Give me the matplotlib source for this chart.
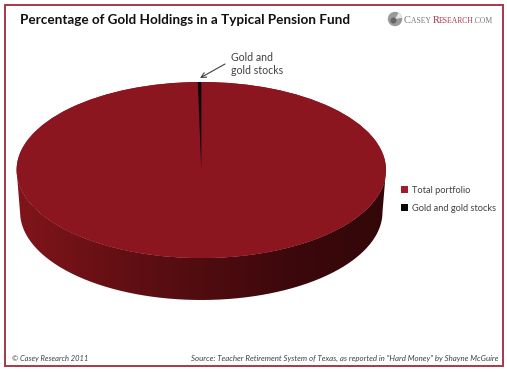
import numpy as np
import matplotlib
matplotlib.use("Agg")
import matplotlib.pyplot as plt
from matplotlib.colors import LinearSegmentedColormap
from matplotlib.patches import Circle, Ellipse, PathPatch, Rectangle, Wedge
from matplotlib.path import Path
from matplotlib.transforms import Affine2D

plt.rcParams['font.family'] = ['Lato', 'DejaVu Sans']

title = "Percentage of Gold Holdings in a Typical Pension Fund"
categories = ["Total portfolio", "Gold and gold stocks"]
shares = [99.7, 0.3]
colors = ["#8c161f", "#0a0505"]
legend_colors = ["#a01c2c", "#0a0505"]
side_colors = ["#80151b", "#661014", "#500c10", "#3c080c", "#330709"]
callout = "Gold and\ngold stocks"
copyright_note = "© Casey Research 2011"
source_note = 'Source: Teacher Retirement System of Texas, as reported in "Hard Money" by Shayne McGuire'

W, H = 507, 372
text_color = "#404040"

fig = plt.figure(figsize=(W / 100, H / 100), dpi=100)
ax = fig.add_axes([0, 0, 1, 1])

# pie is drawn on a unit circle, then squashed onto the tilted ellipse (pixel coords)
cx, cy, rx, ry = 201.3, 170, 184.7, 88
depth = 42
wedges, _ = ax.pie(shares, colors=colors, startangle=90, counterclock=False,
                   wedgeprops=dict(linewidth=0))
squash = Affine2D().scale(rx, -ry).translate(cx, cy) + ax.transData

ax.set_xlim(0, W)
ax.set_ylim(H, 0)
ax.set_aspect("auto")
ax.axis("off")

for w in wedges:
    w.set_transform(squash)
    w.set_zorder(3)
    w.set_clip_on(False)

# backing so no pale seam shows between the two slices
ax.add_patch(Ellipse((cx, cy), 2 * rx, 2 * ry, fc=colors[0], ec="none", zorder=2.5))

# side of the disc, slightly narrower at the bottom
t = np.linspace(0, np.pi, 200)
top_x, top_y = cx + rx * np.cos(t), cy + ry * np.sin(t)
bot_x, bot_y = cx + (rx - 3.5) * np.cos(t[::-1]), cy + depth + ry * np.sin(t[::-1])
side_path = Path(np.column_stack([np.r_[top_x, bot_x], np.r_[top_y, bot_y]]))
side_cmap = LinearSegmentedColormap.from_list("side", side_colors[::-1])
grad = ax.imshow(np.linspace(1, 0, 256)[None, :], extent=(cx - rx, cx + rx, cy + depth + ry, cy - 5),
                 cmap=side_cmap, aspect="auto", zorder=2, vmin=0, vmax=1)
clip = PathPatch(side_path, transform=ax.transData, fc="none", ec="none")
ax.add_patch(clip)
grad.set_clip_path(clip)
ax.set_xlim(0, W)
ax.set_ylim(H, 0)

# frame
ax.add_patch(Rectangle((5, 5), 498, 361, fc="none", ec="#a5384a", lw=1.4, zorder=5))

ax.text(20, 20.5, title, fontsize=9.75, fontweight="bold", color="#111111", va="center", ha="left")

# logo
ax.add_patch(Circle((395, 19), 7.2, fc="#9a9a9a", ec="none", zorder=4))
ax.add_patch(Wedge((395, 19), 7.2, 300, 350, fc="#e6e6e6", ec="none", zorder=4))
ax.add_patch(Circle((393.5, 20.5), 3, fc="#666666", ec="none", zorder=4))
logo_x = 404
for s, size, col in [("C", 7.5, "#777777"), ("ASEY ", 5.5, "#777777"),
                     ("R", 7.5, "#a5384a"), ("ESEARCH", 5.5, "#a5384a"), (".COM", 5.5, "#777777")]:
    txt = ax.text(logo_x, 23, s, fontsize=size, color=col, family="Liberation Serif", va="baseline", ha="left")
    bb = txt.get_window_extent(fig.canvas.get_renderer())
    logo_x += bb.width

# callout
ax.annotate("", xy=(200, 78), xytext=(225, 64),
            arrowprops=dict(arrowstyle="->", color=text_color, lw=0.8, mutation_scale=9, shrinkA=0, shrinkB=0))
ax.text(231, 64, callout, fontsize=7.6, color=text_color, va="center", ha="left", linespacing=1.3)

leg = ax.legend(wedges, categories, loc="upper left", bbox_to_anchor=(398 / W, 1 - 183 / H),
                frameon=False, fontsize=6.7, labelcolor=text_color, handlelength=0.8, handleheight=0.8,
                handletextpad=0.4, labelspacing=1.0, borderpad=0.3, borderaxespad=0)
for h, c in zip(leg.legend_handles, legend_colors):
    h.set_facecolor(c)

ax.text(12, 358, copyright_note, fontsize=5.4, style="italic", color=text_color, va="center", ha="left")
ax.text(498, 358, source_note, fontsize=5.65, style="italic", color=text_color, va="center", ha="right")

fig.savefig("out.png", dpi=100)
